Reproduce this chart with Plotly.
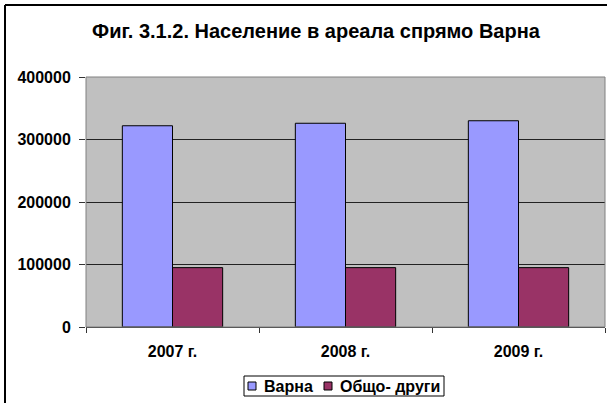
import plotly.graph_objects as go

categories = ["2007 г.", "2008 г.", "2009 г."]
series_names = ["Варна", "Общо- други"]
varna = [322000, 326000, 330000]
others = [95000, 95000, 95000]
y_ticks = [0, 100000, 200000, 300000, 400000]
colors = ["#9999FF", "#993366"]

FONT = "Arial, Liberation Sans, sans-serif"

fig = go.Figure()
for name, vals, col in zip(series_names, [varna, others], colors):
    fig.add_trace(go.Bar(name=name, x=categories, y=vals,
                         marker=dict(color=col, line=dict(color="#000000", width=1))))

L, R, T, B = 86, 2, 77, 76
W, H = 607, 403
pw = W - L - R
ph = H - T - B


def px(x):
    return (x - L) / pw


def py(y):
    return (H - B - y) / ph


fig.update_layout(
    width=W, height=H,
    margin=dict(l=L, r=R, t=T, b=B),
    paper_bgcolor="white",
    plot_bgcolor="#C0C0C0",
    barmode="group", bargap=0.42, bargroupgap=0,
    showlegend=False,
    font=dict(family=FONT, size=16, color="black", weight="bold"),
    title=dict(text="Фиг. 3.1.2. Население в ареала спрямо Варна",
               x=316 / W, xanchor="center", y=1 - 31 / H, yanchor="middle",
               font=dict(family=FONT, size=20, color="black", weight="bold")),
    xaxis=dict(showgrid=False, ticks="outside", tickson="boundaries", ticklen=5,
               tickcolor="#333333", showline=True, linecolor="#333333", linewidth=1,
               ticklabelstandoff=10,
               tickfont=dict(family=FONT, size=16, weight="bold")),
    yaxis=dict(range=[0, 400000], tickvals=y_ticks, ticktext=[str(v) for v in y_ticks],
               showgrid=True, gridcolor="#222222", gridwidth=1, zeroline=False,
               ticks="outside", ticklen=6, tickcolor="#333333",
               showline=False, ticklabelstandoff=5,
               tickfont=dict(family=FONT, size=16, weight="bold")),
)

# plot area border
fig.add_shape(type="rect", xref="paper", yref="paper", x0=0, x1=1, y0=0, y1=1,
              line=dict(color="#808080", width=1), layer="above")
# outer chart frame (left and top edges visible)
fig.add_shape(type="line", xref="paper", yref="paper", x0=px(5), x1=px(5), y0=py(5), y1=py(420),
              line=dict(color="black", width=2))
fig.add_shape(type="line", xref="paper", yref="paper", x0=px(5), x1=px(620), y0=py(5), y1=py(5),
              line=dict(color="black", width=2))

# legend box
fig.add_shape(type="rect", xref="paper", yref="paper", x0=px(244), x1=px(444), y0=py(376), y1=py(396),
              line=dict(color="black", width=1), fillcolor="white")
legend_items = [(248, 262), (324, 338)]
for (sx, tx), name, col in zip(legend_items, series_names, colors):
    fig.add_shape(type="rect", xref="paper", yref="paper", x0=px(sx), x1=px(sx + 8),
                  y0=py(382), y1=py(390), line=dict(color="black", width=1), fillcolor=col)
    fig.add_annotation(text=name, xref="paper", yref="paper", x=px(tx), y=py(386),
                       xanchor="left", yanchor="middle", showarrow=False,
                       font=dict(family=FONT, size=16, color="black", weight="bold"))

fig.write_html("out.html", post_script="document.body.style.margin='0px';",
               config={"displayModeBar": False})
